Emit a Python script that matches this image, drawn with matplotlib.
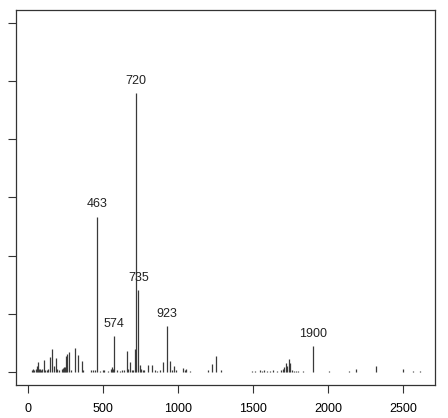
import matplotlib
matplotlib.use("Agg")
import matplotlib.pyplot as plt

plt.rcParams['font.family'] = ['Liberation Sans', 'DejaVu Sans']

# peak positions (m/z) and heights (arbitrary units, y ticks at 0..6)
mz = [25, 35, 42, 50, 58, 64, 70, 78, 85, 95, 107, 115, 125, 135, 147, 162,
      175, 186, 195, 205, 225, 232, 240, 246, 251, 262, 273, 285, 315, 331,
      357, 368, 420, 432, 445, 463, 480, 500, 506, 530, 555, 560, 565, 574,
      590, 610, 625, 640, 657, 668, 679, 690, 700, 715, 720, 735, 746, 755,
      765, 775, 801, 824, 845, 860, 880, 901, 923, 946, 960, 972, 985, 1035,
      1045, 1053, 1079, 1199, 1224, 1250, 1288, 1490, 1512, 1545, 1560, 1572,
      1590, 1612, 1634, 1657, 1685, 1696, 1708, 1716, 1725, 1736, 1745, 1757,
      1770, 1785, 1800, 1832, 1900, 2005, 2138, 2185, 2316, 2500, 2567, 2611]
intensity = [0.03, 0.05, 0.04, 0.06, 0.10, 0.17, 0.06, 0.05, 0.04, 0.05, 0.20,
             0.04, 0.04, 0.05, 0.26, 0.39, 0.10, 0.24, 0.05, 0.04, 0.06, 0.07,
             0.08, 0.09, 0.27, 0.31, 0.34, 0.04, 0.41, 0.29, 0.19, 0.03, 0.03,
             0.04, 0.03, 2.67, 0.02, 0.03, 0.03, 0.02, 0.06, 0.09, 0.06, 0.61,
             0.03, 0.02, 0.03, 0.03, 0.36, 0.05, 0.18, 0.04, 0.03, 0.39, 4.79,
             1.40, 0.12, 0.06, 0.04, 0.03, 0.12, 0.12, 0.03, 0.02, 0.03, 0.17,
             0.79, 0.19, 0.04, 0.11, 0.03, 0.07, 0.04, 0.05, 0.02, 0.03, 0.14,
             0.28, 0.03, 0.02, 0.02, 0.03, 0.02, 0.04, 0.02, 0.02, 0.03, 0.02,
             0.03, 0.05, 0.09, 0.16, 0.11, 0.22, 0.16, 0.03, 0.02, 0.02, 0.02,
             0.02, 0.45, 0.02, 0.02, 0.05, 0.11, 0.05, 0.02, 0.02]
labelled = [463, 574, 720, 735, 923, 1900]
x_ticks = [0, 500, 1000, 1500, 2000, 2500]
y_ticks = [0, 1, 2, 3, 4, 5, 6]

fig = plt.figure(figsize=(4.48, 4.18), dpi=100)
ax = fig.add_axes([0.0357, 0.079, 0.935, 0.897])

ax.vlines(mz, 0, intensity, color='#3a3a3a', linewidth=0.9)

for m in labelled:
    h = intensity[mz.index(m)]
    ax.annotate(str(m), (m, h), xytext=(0, 4.5), textcoords='offset points',
                ha='center', va='bottom', fontsize=9, color='#222222')

ax.set_xlim(-80, 2711)
ax.set_ylim(-0.223, 6.218)
ax.set_xticks(x_ticks)
ax.set_yticks(y_ticks)
ax.set_yticklabels([])
ax.tick_params(axis='both', length=5.8, width=0.8, color='#333333',
               labelsize=9, pad=7.5)
for s in ax.spines.values():
    s.set_color('#333333')
    s.set_linewidth(0.9)

fig.savefig("out.png", dpi=100)
